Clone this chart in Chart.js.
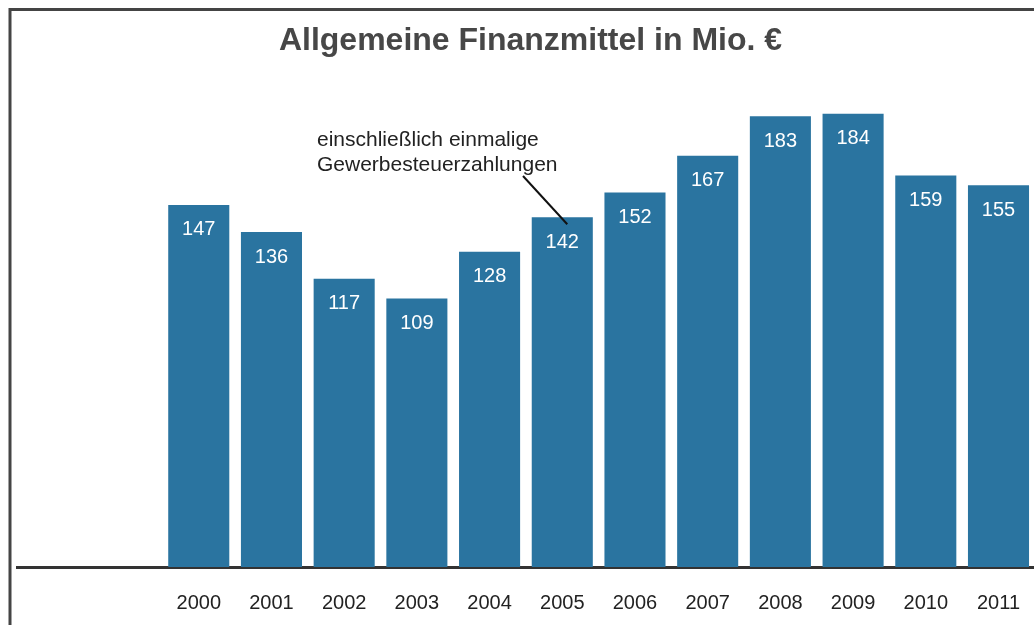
<!DOCTYPE html>
<html>
<head>
<meta charset="utf-8">
<script src="https://cdn.jsdelivr.net/npm/chart.js@4.4.1/dist/chart.umd.min.js"></script>
<style>
  html, body { margin: 0; padding: 0; background: #fff; overflow: hidden; }
  #wrap { position: relative; width: 1034px; height: 625px; overflow: hidden; }
</style>
</head>
<body>
<div id="wrap"><canvas id="myChart" width="1044" height="625"></canvas></div>
<script>
// data
var years = ['2000', '2001', '2002', '2003', '2004', '2005', '2006', '2007', '2008', '2009', '2010', '2011'];
var values = [147, 136, 117, 109, 128, 142, 152, 167, 183, 184, 159, 155];
var titleText = 'Allgemeine Finanzmittel in Mio. €';
var noteLines = ['einschließlich einmalige', 'Gewerbesteuerzahlungen'];
var noteYear = '2005';

// two empty slots on the left, like the original
var labels = ['', ''].concat(years);
var data = [null, null].concat(values);

var barColor = '#2a74a0';
var font = '"Liberation Sans", Arial, sans-serif';

var framePlugin = {
    id: 'frame',
    beforeDraw: function (chart) {
        var ctx = chart.ctx;
        ctx.save();
        ctx.strokeStyle = '#444';
        ctx.lineWidth = 3;
        ctx.beginPath();
        ctx.moveTo(10, 625);
        ctx.lineTo(10, 9.5);
        ctx.lineTo(1044, 9.5);
        ctx.stroke();
        ctx.restore();
    }
};

var valueLabels = {
    id: 'valueLabels',
    afterDatasetsDraw: function (chart) {
        var ctx = chart.ctx;
        var meta = chart.getDatasetMeta(0);
        ctx.save();
        ctx.fillStyle = '#fff';
        ctx.font = '20px ' + font;
        ctx.textAlign = 'center';
        ctx.textBaseline = 'middle';
        meta.data.forEach(function (bar, i) {
            var v = data[i];
            if (v == null) return;
            ctx.fillText(String(v), bar.x, bar.y + 25);
        });
        ctx.restore();
    }
};

var notePlugin = {
    id: 'note',
    afterDraw: function (chart) {
        var ctx = chart.ctx;
        var xs = chart.scales.x, ys = chart.scales.y;
        var idx = labels.indexOf(noteYear);
        var bx = xs.getPixelForValue(idx);
        var by = ys.getPixelForValue(data[idx]);
        ctx.save();
        ctx.fillStyle = '#222';
        ctx.font = '21px ' + font;
        ctx.textAlign = 'left';
        ctx.textBaseline = 'middle';
        ctx.fillText(noteLines[0], 317, 140);
        ctx.fillText(noteLines[1], 317, 165);
        ctx.strokeStyle = '#111';
        ctx.lineWidth = 2;
        ctx.beginPath();
        ctx.moveTo(523, 176);
        ctx.lineTo(bx + 5, by + 7);
        ctx.stroke();
        ctx.restore();
    }
};

var ctx1 = document.getElementById('myChart').getContext('2d');
new Chart(ctx1, {
    type: 'bar',
    data: {
        labels: labels,
        datasets: [{
            label: 'Allgemeine Finanzmittel',
            data: data,
            backgroundColor: barColor,
            borderWidth: 0,
            barPercentage: 0.84,
            categoryPercentage: 1.0
        }]
    },
    options: {
        responsive: false,
        animation: false,
        layout: {
            padding: { left: 17, right: 0, top: 0, bottom: -14 }
        },
        plugins: {
            legend: { display: false },
            tooltip: { enabled: false },
            title: {
                display: true,
                text: titleText,
                color: '#474747',
                font: { family: font, size: 32, weight: 'bold' },
                padding: { top: 22, bottom: 14 }
            }
        },
        scales: {
            x: {
                grid: { display: false, drawTicks: false },
                border: { display: true, color: '#333', width: 3 },
                ticks: {
                    color: '#222',
                    padding: 24,
                    maxRotation: 0,
                    autoSkip: false,
                    font: { family: font, size: 20 }
                }
            },
            y: {
                display: false,
                min: 0,
                max: 200
            }
        }
    },
    plugins: [framePlugin, valueLabels, notePlugin]
});
</script>
</body>
</html>
